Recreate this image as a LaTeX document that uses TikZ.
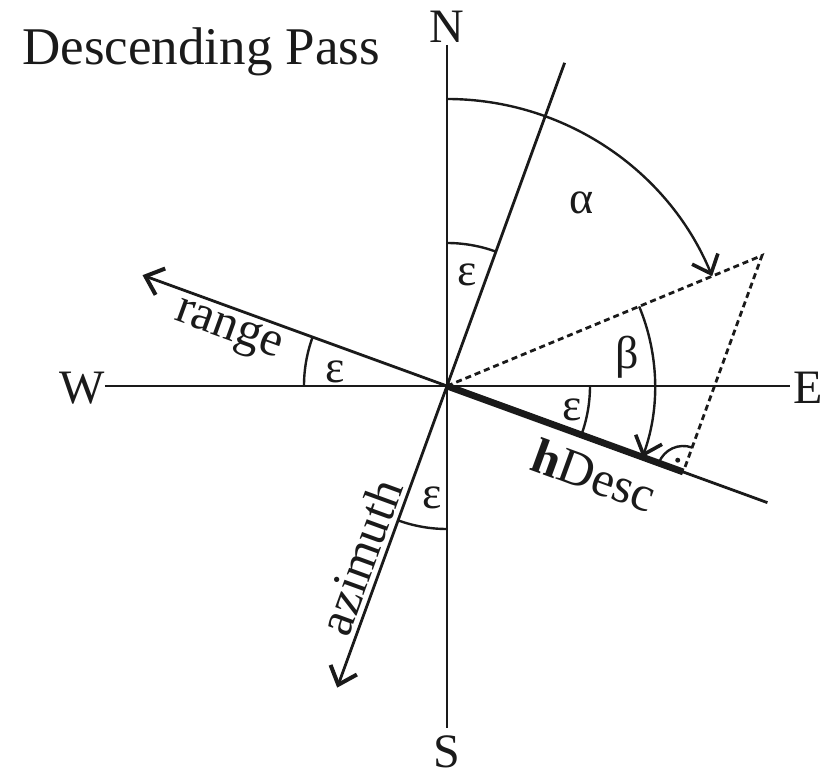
\documentclass[tikz,border=0pt]{standalone}
\usepackage{fontspec}
\setmainfont{Liberation Serif}
\usepackage{tikz}
\usetikzlibrary{
  arrows.meta,
  calc
}
\definecolor{FigText}{HTML}{1A1A1A}

\begin{document}
\begin{tikzpicture}[
x=0.5pt, y=0.5pt,
>={Straight Barb[length=8pt,width=14pt,line width=0.6pt 1]},
axisline/.style={
draw=FigText,
line width=1.4pt
},
anglearc/.style={
draw=FigText,
line width=1.2pt
},
thickline/.style={
draw=FigText,
line width=3.4pt
},
dashline/.style={
draw=FigText,
line width=1.4pt,
dash pattern=on 3pt off 2pt
},
compass/.style={
font=\fontsize{24}{28}\selectfont,
inner sep=0pt,
anchor=base
},
greek/.style={
font=\fontsize{23}{27}\selectfont,
inner sep=0pt
},
dirname/.style={
font=\fontsize{25}{30}\selectfont,
inner sep=0pt
},
every node/.style={text=FigText}
]
\useasboundingbox (-447,-390) rectangle (379,386);

% Title
\node[anchor=base west, font=\fontsize{26.5}{31}\selectfont, inner sep=0pt] (title) at (-425,321) {Descending Pass};

% Compass points and axes
\node[compass] (N) at (0,343) {N};
\node[compass] (S) at (0,-382) {S};
\node[compass] (W) at (-365,-18) {W};
\node[compass] (E) at (361,-18) {E};

\coordinate (O) at (0,0);
\coordinate (nend) at (90:341);
\coordinate (send) at (270:342);
\coordinate (wend) at (180:342);
\coordinate (eend) at (0:343);
\draw[axisline] (nend) -- (send);
\draw[axisline] (wend) -- (eend);

% Rotated frame
\coordinate (tilt) at (70:344);
\coordinate (azi) at (250:321);
\coordinate (rng) at (160:324);
\coordinate (desc) at (-20:341);
\coordinate (apex) at (22.5:341);
\coordinate (foot) at ($(O)!(apex)!(desc)$);

\draw[axisline] (tilt) -- (O);
\draw[axisline, ->] (O) -- (azi);
\draw[axisline, ->] (O) -- (rng);
\draw[axisline] (O) -- (desc);
\draw[thickline] (O) -- (foot);
\draw[dashline] (O) -- (apex) -- (foot);

% Angles
\draw[anglearc, ->] (90:287) arc[start angle=90, end angle=22.5, radius=287];
\draw[anglearc, ->] (22.5:208) arc[start angle=22.5, end angle=-20, radius=208];
\draw[anglearc] (90:143) arc[start angle=90, end angle=70, radius=143];
\draw[anglearc] (180:143) arc[start angle=180, end angle=160, radius=143];
\draw[anglearc] (270:143) arc[start angle=270, end angle=250, radius=143];
\draw[anglearc] (0:143) arc[start angle=0, end angle=-20, radius=143];
\draw[anglearc] ($(foot)+(70:26)$) arc[start angle=70, end angle=160, radius=26];
\fill[FigText] ($(foot)+(115:13)$) circle[radius=2.5];

\node[greek] (epsn) at (20,111) {ε};
\node[greek] (epsw) at (-112,14) {ε};
\node[greek] (epss) at (-15,-112) {ε};
\node[greek] (epse) at (125,-24) {ε};
\node[greek] (alpha) at (135,183) {α};
\node[greek] (beta) at (180,29) {β};

% Direction names
\node[dirname, rotate=-20] (range) at (-219,54) {range};
\node[dirname, rotate=70] (azimuth) at (-87,-171) {azimuth};
\node[dirname, rotate=-20] (hdesc) at (147,-89) {\textbf{h}Desc};

\end{tikzpicture}
\end{document}
